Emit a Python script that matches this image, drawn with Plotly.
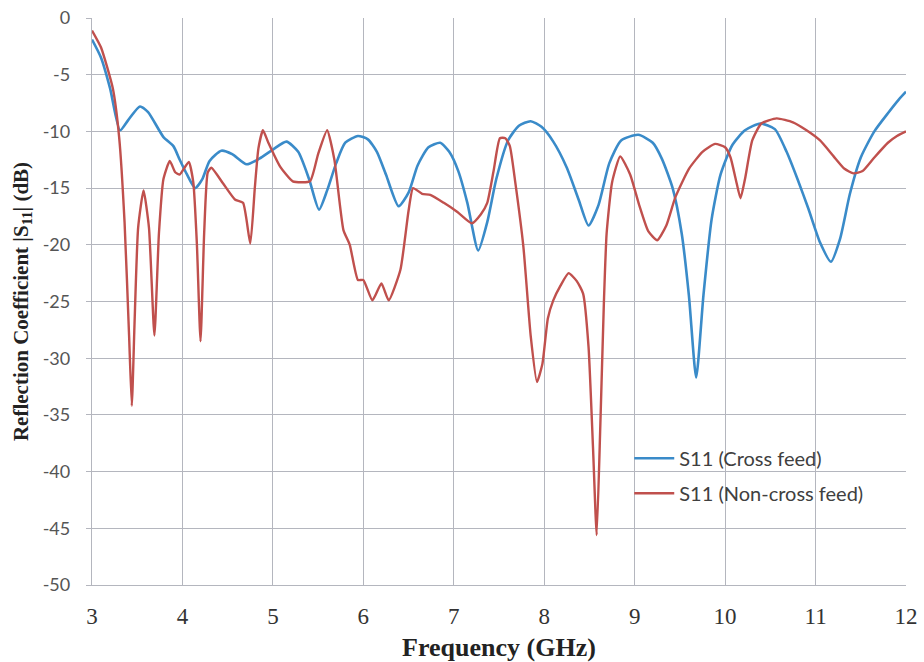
import plotly.graph_objects as go

# Cross feed (blue)
freq_cross = [3.0, 3.1, 3.2, 3.31, 3.4, 3.53, 3.62, 3.79, 3.9, 3.97, 4.05, 4.14, 4.22, 4.3, 4.43,
              4.55, 4.71, 4.85, 5.0, 5.15, 5.28, 5.4, 5.51, 5.6, 5.7, 5.8, 5.94, 6.05, 6.15, 6.25,
              6.39, 6.5, 6.6, 6.72, 6.85, 6.95, 7.05, 7.15, 7.27, 7.37, 7.47, 7.6, 7.72, 7.85, 7.97,
              8.1, 8.25, 8.38, 8.49, 8.6, 8.72, 8.85, 9.04, 9.2, 9.3, 9.42, 9.52, 9.6, 9.68, 9.76,
              9.85, 9.95, 10.08, 10.22, 10.39, 10.55, 10.68, 10.8, 10.92, 11.05, 11.17, 11.27, 11.38,
              11.5, 11.65, 11.8, 11.92, 12.0]
s11_cross = [-1.9, -3.5, -6.2, -9.9, -9.0, -7.8, -8.3, -10.5, -11.3, -12.5, -13.8, -15.0, -14.2, -12.6, -11.7,
             -12.0, -12.9, -12.4, -11.6, -10.9, -11.8, -14.2, -16.9, -15.2, -12.8, -11.0, -10.4, -10.7, -11.8, -13.8,
             -16.6, -15.4, -13.0, -11.4, -11.0, -11.8, -13.5, -16.3, -20.5, -18.0, -14.2, -10.8, -9.5, -9.1, -9.6,
             -10.9, -13.2, -16.0, -18.3, -16.5, -12.8, -10.8, -10.3, -11.0, -12.4, -15.0, -19.0, -24.5, -31.7, -24.5,
             -17.8, -13.8, -11.2, -9.9, -9.3, -9.8, -11.8, -14.2, -16.8, -19.8, -21.5, -19.5, -15.5,
             -12.3, -10.0, -8.4, -7.2, -6.5]

# Non-cross feed (red)
freq_noncross = [3.0, 3.1, 3.23, 3.3, 3.36, 3.41, 3.44, 3.47, 3.51, 3.57, 3.63, 3.69, 3.74, 3.79, 3.86,
                 3.92, 3.97, 4.07, 4.12, 4.16, 4.2, 4.24, 4.28, 4.32, 4.45, 4.58, 4.67, 4.75, 4.8, 4.84,
                 4.89, 4.95, 5.08, 5.22, 5.41, 5.5, 5.6, 5.68, 5.78, 5.85, 5.94, 6.0, 6.1, 6.2, 6.28,
                 6.41, 6.5, 6.55, 6.65, 6.74, 6.89, 7.04, 7.2, 7.3, 7.37, 7.44, 7.51, 7.57, 7.62, 7.68,
                 7.77, 7.85, 7.92, 7.98, 8.04, 8.1, 8.18, 8.27, 8.36, 8.43, 8.49, 8.54, 8.58, 8.62, 8.66,
                 8.69, 8.75, 8.84, 8.95, 9.05, 9.15, 9.25, 9.35, 9.45, 9.6, 9.75, 9.89, 10.0, 10.06, 10.12,
                 10.17, 10.22, 10.3, 10.4, 10.57, 10.75, 10.9, 11.05, 11.2, 11.32, 11.42, 11.52, 11.65,
                 11.8, 11.9, 12.0]
s11_noncross = [-1.1, -2.6, -6.2, -10.5, -18.0, -28.0, -34.2, -27.0, -18.5, -15.2, -18.5, -28.0, -19.0, -14.2, -12.6,
                -13.6, -13.8, -12.7, -14.5, -20.0, -28.5, -19.0, -13.6, -13.2, -14.6, -16.0, -16.3, -19.9, -15.0, -11.5,
                -9.9, -11.0, -13.1, -14.4, -14.4, -12.0, -9.9, -12.5, -18.7, -20.0, -23.1, -23.1, -24.9, -23.4, -24.9,
                -22.2, -17.0, -15.0, -15.5, -15.6, -16.3, -17.1, -18.1, -17.3, -16.3, -13.5, -10.6, -10.6, -11.3, -14.5,
                -20.2, -28.0, -32.1, -30.5, -26.5, -24.9, -23.6, -22.5, -23.2, -24.3, -29.0, -38.0, -45.6, -36.0, -25.0,
                -19.0, -14.5, -12.2, -13.8, -16.5, -18.8, -19.6, -18.3, -15.8, -13.3, -11.8, -11.1, -11.4, -12.3, -14.3,
                -15.9, -14.2, -10.8, -9.3, -8.85, -9.2, -9.9, -10.8, -12.2, -13.3, -13.7, -13.5, -12.3,
                -11.0, -10.4, -10.0]

x_ticks = [3, 4, 5, 6, 7, 8, 9, 10, 11, 12]
y_ticks = [0, -5, -10, -15, -20, -25, -30, -35, -40, -45, -50]

fig = go.Figure()
fig.add_trace(go.Scatter(x=freq_cross, y=s11_cross, mode="lines", name="S11 (Cross feed)",
                         legendgroup="a",
                         line=dict(color="#3a8bc9", width=2.6, shape="spline", smoothing=0.6)))
fig.add_trace(go.Scatter(x=freq_noncross, y=s11_noncross, mode="lines", name="S11 (Non-cross feed)",
                         legendgroup="b",
                         line=dict(color="#c0504d", width=2.4, shape="spline", smoothing=0.5)))

grid_col = "#b4b6be"
fig.update_layout(
    width=924, height=662,
    margin=dict(l=92, r=18, t=18, b=77, autoexpand=False),
    paper_bgcolor="white", plot_bgcolor="white",
    showlegend=True,
    legend=dict(x=0.66, y=0.258, xanchor="left", yanchor="top",
                bgcolor="rgba(0,0,0,0)", font=dict(family="Lato", size=20, color="#404040"),
                tracegroupgap=6, itemwidth=40),
    xaxis=dict(range=[3, 12], tickvals=x_ticks, ticktext=[str(t) for t in x_ticks],
               showgrid=True, gridcolor=grid_col, gridwidth=1.3, zeroline=False,
               showline=True, linecolor=grid_col, linewidth=1.3, automargin=False,
               ticks="", ticklen=0, ticklabelstandoff=10,
               tickfont=dict(family="Liberation Serif", size=23, color="#333333"),
               title=dict(text="<b>Frequency (GHz)</b>", standoff=10,
                          font=dict(family="Liberation Serif", size=26, color="#222222"))),
    yaxis=dict(range=[-50, 0], tickvals=y_ticks, ticktext=[str(t) for t in y_ticks],
               showgrid=True, gridcolor=grid_col, gridwidth=1.3, zeroline=False,
               showline=True, linecolor=grid_col, linewidth=1.3, automargin=False,
               ticks="outside", ticklen=5, tickcolor=grid_col, ticklabelstandoff=12,
               tickfont=dict(family="Lato", size=18, color="#555555"),
               title=dict(text="<b>Reflection Coefficient |S<sub>11</sub>| (dB)</b>", standoff=8,
                          font=dict(family="Liberation Serif", size=21, color="#222222"))),
)

fig.write_html("out.html", config={"displayModeBar": False},
               post_script="document.body.style.margin='0';")
